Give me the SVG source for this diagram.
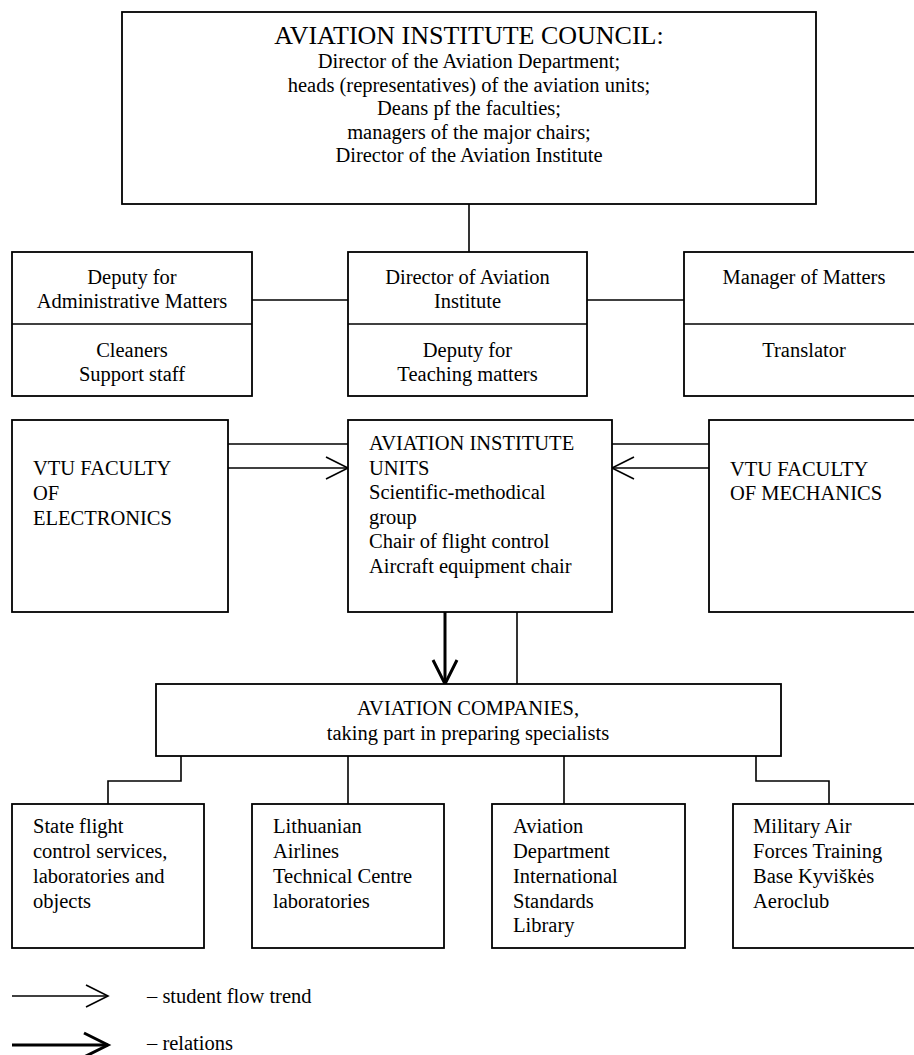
<svg xmlns="http://www.w3.org/2000/svg" width="914" height="1055" viewBox="0 0 914 1055">
<defs>
<style>
.box{fill:#fff;stroke:#000;stroke-width:1.8}
.ln{fill:none;stroke:#000;stroke-width:1.6}
.thick{fill:none;stroke:#000;stroke-width:3}
text{font-family:"Liberation Serif","Times New Roman",serif;font-size:20.5px;fill:#000}
.c{text-anchor:middle}
.title{font-size:26px}
</style>
<marker id="thinHead" markerUnits="userSpaceOnUse" markerWidth="26" markerHeight="26" refX="22" refY="11" orient="auto" overflow="visible">
<path d="M0,0 L22,11 L0,22" fill="none" stroke="#000" stroke-width="1.6"/>
</marker>
<marker id="thickHead" markerUnits="userSpaceOnUse" markerWidth="28" markerHeight="28" refX="24" refY="12" orient="auto" overflow="visible">
<path d="M0,0 L24,12 L0,24" fill="none" stroke="#000" stroke-width="3"/>
</marker>
</defs>
<rect width="914" height="1055" fill="#fff"/>

<g id="connectors">
<path class="ln" d="M469,204 V252"/>
<path class="ln" d="M252,300 H348"/>
<path class="ln" d="M587,300 H684"/>
<path class="ln" d="M228,444 H348"/>
<path class="ln" d="M228,468 H348" marker-end="url(#thinHead)"/>
<path class="ln" d="M709,444 H612"/>
<path class="ln" d="M709,468 H612" marker-end="url(#thinHead)"/>
<path class="thick" d="M445,612 V684" marker-end="url(#thickHead)"/>
<path class="ln" d="M517,612 V684"/>
<path class="ln" d="M181,756 V781 H108 V804"/>
<path class="ln" d="M348,756 V804"/>
<path class="ln" d="M564,756 V804"/>
<path class="ln" d="M756,756 V781 H829 V804"/>
</g>

<g id="council">
<rect class="box" x="122" y="12" width="694" height="192"/>
<text class="c title" x="469" y="44">AVIATION INSTITUTE COUNCIL:</text>
<text class="c" x="469" y="68">Director of the Aviation Department;</text>
<text class="c" x="469" y="92">heads (representatives) of the aviation units;</text>
<text class="c" x="469" y="115">Deans pf the faculties;</text>
<text class="c" x="469" y="139">managers of the major chairs;</text>
<text class="c" x="469" y="162">Director of the Aviation Institute</text>
</g>

<g id="deputy-admin">
<rect class="box" x="12" y="252" width="240" height="144"/>
<line class="ln" x1="12" y1="324" x2="252" y2="324"/>
<text class="c" x="132" y="284">Deputy for</text>
<text class="c" x="132" y="308">Administrative Matters</text>
<text class="c" x="132" y="357">Cleaners</text>
<text class="c" x="132" y="381">Support staff</text>
</g>

<g id="director">
<rect class="box" x="348" y="252" width="239" height="144"/>
<line class="ln" x1="348" y1="324" x2="587" y2="324"/>
<text class="c" x="467.5" y="284">Director of Aviation</text>
<text class="c" x="467.5" y="308">Institute</text>
<text class="c" x="467.5" y="357">Deputy for</text>
<text class="c" x="467.5" y="381">Teaching matters</text>
</g>

<g id="manager">
<rect class="box" x="684" y="252" width="240" height="144"/>
<line class="ln" x1="684" y1="324" x2="924" y2="324"/>
<text class="c" x="804" y="284">Manager of Matters</text>
<text class="c" x="804" y="357">Translator</text>
</g>

<g id="faculty-electronics">
<rect class="box" x="12" y="420" width="216" height="192"/>
<text x="33" y="475">VTU FACULTY</text>
<text x="33" y="500">OF</text>
<text x="33" y="525">ELECTRONICS</text>
</g>

<g id="institute-units">
<rect class="box" x="348" y="420" width="264" height="192"/>
<text x="369" y="450">AVIATION INSTITUTE</text>
<text x="369" y="474.5">UNITS</text>
<text x="369" y="499">Scientific-methodical</text>
<text x="369" y="523.5">group</text>
<text x="369" y="548">Chair of flight control</text>
<text x="369" y="572.5">Aircraft equipment chair</text>
</g>

<g id="faculty-mechanics">
<rect class="box" x="709" y="420" width="215" height="192"/>
<text x="730" y="476">VTU FACULTY</text>
<text x="730" y="500">OF MECHANICS</text>
</g>

<g id="companies">
<rect class="box" x="156" y="684" width="625" height="72"/>
<text class="c" x="468" y="715">AVIATION COMPANIES,</text>
<text class="c" x="468" y="740">taking part in preparing specialists</text>
</g>

<g id="state-flight">
<rect class="box" x="12" y="804" width="192" height="144"/>
<text x="33" y="833">State flight</text>
<text x="33" y="858">control services,</text>
<text x="33" y="883">laboratories and</text>
<text x="33" y="908">objects</text>
</g>

<g id="airlines">
<rect class="box" x="252" y="804" width="192" height="144"/>
<text x="273" y="833">Lithuanian</text>
<text x="273" y="858">Airlines</text>
<text x="273" y="883">Technical Centre</text>
<text x="273" y="908">laboratories</text>
</g>

<g id="library">
<rect class="box" x="492" y="804" width="193" height="144"/>
<text x="513" y="833">Aviation</text>
<text x="513" y="858">Department</text>
<text x="513" y="883">International</text>
<text x="513" y="908">Standards</text>
<text x="513" y="932">Library</text>
</g>

<g id="military">
<rect class="box" x="733" y="804" width="192" height="144"/>
<text x="753" y="833">Military Air</text>
<text x="753" y="858">Forces Training</text>
<text x="753" y="883">Base Kyviškės</text>
<text x="753" y="908">Aeroclub</text>
</g>

<g id="legend">
<path class="ln" d="M12,996 H108" marker-end="url(#thinHead)"/>
<text x="147" y="1003">– student flow trend</text>
<path class="thick" d="M12,1045 H108" marker-end="url(#thickHead)"/>
<text x="147" y="1050">– relations</text>
</g>
</svg>
